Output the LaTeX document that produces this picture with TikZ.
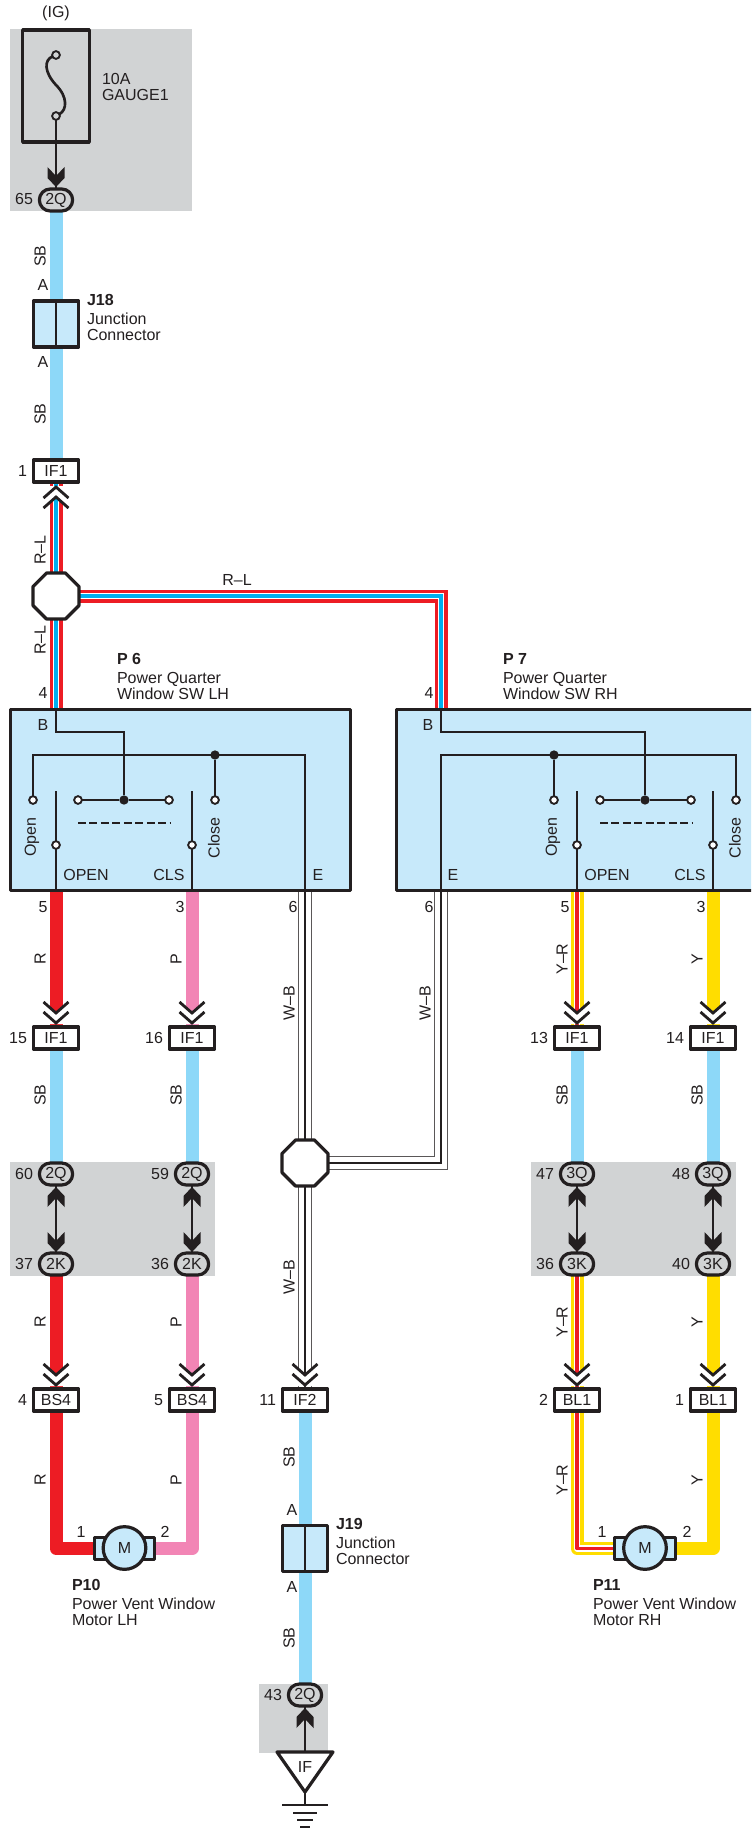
\documentclass[tikz,border=0pt]{standalone}
\usepackage{fontspec}
\setmainfont{Liberation Sans}
\usetikzlibrary{shapes.geometric,shapes.misc,calc}
\pgfdeclarelayer{grey}
\pgfdeclarelayer{wires}
\pgfsetlayers{grey,wires,main}
\definecolor{ink}{HTML}{231F20}
\definecolor{sb}{HTML}{8DD8F8}
\definecolor{rd}{HTML}{ED1C24}
\definecolor{pk}{HTML}{F285B5}
\definecolor{yl}{HTML}{FFDD00}
\definecolor{bl}{HTML}{00AEEF}
\definecolor{boxb}{HTML}{C7E9FA}
\definecolor{gr}{HTML}{D1D3D4}
\tikzset{
  every node/.style={font=\fontsize{12}{12}\selectfont,text=ink,inner sep=0pt,outer sep=0pt},
  heavy/.style={draw=ink,line width=2.4pt,line join=round},
  fine/.style={draw=ink,line width=1.3pt},
  conn/.style={heavy,fill=white,rectangle,minimum width=34pt,minimum height=16.5pt},
  oval/.style={heavy,fill=gr,rounded rectangle,minimum width=25pt,minimum height=16.5pt},
  junc/.style={heavy,fill=boxb,rectangle,minimum width=34pt,minimum height=34.5pt},
  octa/.style={heavy,fill=white,regular polygon,regular polygon sides=8,minimum size=37.3pt},
  swbox/.style={heavy,fill=boxb,rectangle},
  term/.style={circle,draw=ink,line width=1.4pt,fill=white,minimum size=5.8pt},
  dot/.style={circle,fill=ink,minimum size=7pt},
  lab/.style={rotate=90},
  desc/.style={align=left,anchor=north west},
  wsb/.style={draw=sb,line width=9.75pt},
  wr/.style={draw=rd,line width=9.75pt,line join=round},
  wp/.style={draw=pk,line width=9.75pt,line join=round},
  wy/.style={draw=yl,line width=9.75pt,line join=round},
  wrl/.style={draw=rd,line width=9.75pt,postaction={draw=white,line width=4.6pt},postaction={draw=bl,line width=2.8pt}},
  wyr/.style={draw=yl,line width=9.75pt,line join=round,postaction={draw=white,line width=4.6pt},postaction={draw=rd,line width=2.8pt}},
  wwb/.style={draw=ink!75,line width=10.2pt,postaction={draw=white,line width=8.9pt},postaction={draw=ink,line width=2.1pt}},
  chevd/.pic={
    \fill[white] (-8,0) -- (0,7) -- (8,0) -- (8,18) -- (-8,18) -- cycle;
    \draw[draw=ink,line width=2.1pt,miter limit=10] (-12.5,-4) -- (0,7) -- (12.5,-4);
    \draw[draw=ink,line width=2.1pt,miter limit=10] (-12.5,6) -- (0,17) -- (12.5,6);
  },
  chevu/.pic={
    \fill[white] (-8,0) -- (0,-7) -- (8,0) -- (8,-18) -- (-8,-18) -- cycle;
    \draw[draw=ink,line width=2.1pt,miter limit=10] (-12.5,4) -- (0,-7) -- (12.5,4);
    \draw[draw=ink,line width=2.1pt,miter limit=10] (-12.5,-6) -- (0,-17) -- (12.5,-6);
  },
  headd/.pic={\fill[ink] (-8.5,0) -- (0,9) -- (8.5,0) -- (8.5,11) -- (0,20) -- (-8.5,11) -- cycle;},
  headu/.pic={\fill[ink] (-8.5,0) -- (0,-9) -- (8.5,0) -- (8.5,-11) -- (0,-20) -- (-8.5,-11) -- cycle;},
}
\begin{document}
\begin{tikzpicture}[x=0.75pt,y=-0.75pt]
\clip (0,0) rectangle (751,1830);
\begin{pgfonlayer}{grey}
\fill[white] (0,0) rectangle (751,1830);
\fill[gr] (10,29) rectangle (192,211);
\fill[gr] (10,1162) rectangle (215,1276);
\fill[gr] (531,1162) rectangle (736,1276);
\fill[gr] (259,1684) rectangle (328,1753);
\end{pgfonlayer}

% ---- fuse
\node (ig) at (56,13) {(IG)};
\node[heavy,rectangle,minimum width=50pt,minimum height=84pt] (fuse) at (56,86) {};
\node[term,fill=gr] (fa) at (56,55) {};
\node[term,fill=gr] (fb) at (56,116) {};
\draw[draw=ink,line width=2pt] (fa) .. controls (44,60) and (44,72) .. (56,85) .. controls (68,97) and (67,110) .. (fb);
\node[desc] (fl) at (102,73.5) {10A\\GAUGE1};
\node[oval] (q65) at (56,200) {2Q};
\node[anchor=east] (n65) at (33,199) {65};

% ---- J18, IF1, octagon
\node[junc] (j18) at (56,324) {};
\draw[fine] (j18.north) -- (j18.south);
\node[desc] (j18l) at (87,294) {\textbf{J18}\\[2.5pt]Junction\\Connector};
\node[conn] (if1) at (56,471) {IF1};
\node[anchor=east] (n1) at (27,471) {1};
\node[octa] (oc1) at (56,596) {};
\node[lab] (t1) at (40,256) {SB};
\node (t2) at (43,285) {A};
\node (t3) at (43,362) {A};
\node[lab] (t4) at (40,414) {SB};
\node[lab] (t5) at (40,550) {R--L};
\node[lab] (t6) at (40,640) {R--L};
\node (t7) at (237,580) {R--L};

% ---- switches
\node[swbox,minimum width=255pt,minimum height=135.5pt] (p6) at (180.5,800) {};
\node[swbox,minimum width=271pt,minimum height=135.5pt] (p7) at (577,800) {};
\node[desc] (p6l) at (117,653) {\textbf{P 6}\\[2.5pt]Power Quarter\\Window SW LH};
\node[desc] (p7l) at (503,653) {\textbf{P 7}\\[2.5pt]Power Quarter\\Window SW RH};
\node (n4a) at (43,693) {4};
\node (n4b) at (429,693) {4};
\node (bA) at (43,725) {B};
\node (bB) at (428,725) {B};

% lower connectors
\node[conn] (c15) at (56,1038) {IF1};
\node[conn] (c16) at (192,1038) {IF1};
\node[conn] (c13) at (577,1038) {IF1};
\node[conn] (c14) at (713,1038) {IF1};
\node[anchor=east] (n15) at (27,1038) {15};
\node[anchor=east] (n16) at (163,1038) {16};
\node[anchor=east] (n13) at (548,1038) {13};
\node[anchor=east] (n14) at (684,1038) {14};
\node[oval] (q60) at (56,1174) {2Q};
\node[oval] (q59) at (192,1174) {2Q};
\node[oval] (q47) at (577,1174) {3Q};
\node[oval] (q48) at (713,1174) {3Q};
\node[oval] (k37) at (56,1264) {2K};
\node[oval] (k36) at (192,1264) {2K};
\node[oval] (k36b) at (577,1264) {3K};
\node[oval] (k40) at (713,1264) {3K};
\node[anchor=east] (n60) at (33,1174) {60};
\node[anchor=east] (n59) at (169,1174) {59};
\node[anchor=east] (n47) at (554,1174) {47};
\node[anchor=east] (n48) at (690,1174) {48};
\node[anchor=east] (n37) at (33,1264) {37};
\node[anchor=east] (n36) at (169,1264) {36};
\node[anchor=east] (n36b) at (554,1264) {36};
\node[anchor=east] (n40) at (690,1264) {40};
\node[conn] (b4) at (56,1400) {BS4};
\node[conn] (b5) at (192,1400) {BS4};
\node[conn] (i2) at (305,1400) {IF2};
\node[conn] (l2) at (577,1400) {BL1};
\node[conn] (l1) at (713,1400) {BL1};
\node[anchor=east] (n4c) at (27,1400) {4};
\node[anchor=east] (n5c) at (163,1400) {5};
\node[anchor=east] (n11) at (276,1400) {11};
\node[anchor=east] (n2c) at (548,1400) {2};
\node[anchor=east] (n1c) at (684,1400) {1};
\node[octa] (oc2) at (305,1163) {};

% P6 contents
\node[term] (aO) at (33,800) {};
\node[term] (aS) at (56,845) {};
\node[term] (aL) at (78,800) {};
\node[term] (aR) at (169,800) {};
\node[dot]  (aM) at (124,800) {};
\node[term] (aC) at (215,800) {};
\node[term] (aT) at (192,845) {};
\node[dot]  (aJ) at (215,755) {};
\coordinate (aB) at (56,732);
\coordinate (aE) at (305,755);
\coordinate (aK) at (33,755);
\draw[fine] (if1.center |- p6.north) -- (aB) -- (aM.center |- aB) -- (aM);
\draw[fine] (aO) -- (aK) -- (aE) -- (aE |- p6.south);
\draw[fine] (aJ) -- (aC);
\draw[fine] (aL) -- (aM) -- (aR);
\draw[fine] (aS) -- (aS |- p6.south);
\draw[fine] (aT) -- (aT |- p6.south);
\draw[draw=ink,line width=2pt] (aS.north) -- ++(0,-50);
\draw[draw=ink,line width=2pt] (aT.north) -- ++(0,-50);
\draw[draw=ink,line width=1.4pt,dash pattern=on 6pt off 2.6pt] (78,823) -- (170,823);
\node[lab] (oA) at (32,837) {Open};
\node[lab] (cA) at (214,838) {Close};
\node (pA) at (86,875) {OPEN};
\node (qA) at (169,875) {CLS};
\node (eA) at (318,875) {E};
% P7 contents
\node[term] (bO) at (554,800) {};
\node[term] (bS) at (577,845) {};
\node[term] (bL) at (600,800) {};
\node[term] (bR) at (691,800) {};
\node[dot]  (bM) at (645,800) {};
\node[term] (bC) at (736,800) {};
\node[term] (bT) at (713,845) {};
\node[dot]  (bJ) at (554,755) {};
\coordinate (bT1) at (441,732);
\coordinate (bE) at (441,755);
\coordinate (bK) at (736,755);
\draw[fine] (bT1 |- p7.north) -- (bT1) -- (bM.center |- bT1) -- (bM);
\draw[fine] (bC) -- (bK) -- (bE) -- (bE |- p7.south);
\draw[fine] (bJ) -- (bO);
\draw[fine] (bL) -- (bM) -- (bR);
\draw[fine] (bS) -- (bS |- p7.south);
\draw[fine] (bT) -- (bT |- p7.south);
\draw[draw=ink,line width=2pt] (bS.north) -- ++(0,-50);
\draw[draw=ink,line width=2pt] (bT.north) -- ++(0,-50);
\draw[draw=ink,line width=1.4pt,dash pattern=on 6pt off 2.6pt] (600,823) -- (692,823);
\node[lab] (oB) at (553,837) {Open};
\node[lab] (cB) at (735,838) {Close};
\node (pB) at (607,875) {OPEN};
\node (qB) at (690,875) {CLS};
\node (eB) at (453,875) {E};
% numbers under switches
\node (n5a) at (43,907) {5};
\node (n3a) at (180,907) {3};
\node (n6a) at (293,907) {6};
\node (n6b) at (429,907) {6};
\node (n5b) at (565,907) {5};
\node (n3b) at (701,907) {3};

% wire labels
\node[lab] (u1) at (40,959) {R};
\node[lab] (u2) at (176,959) {P};
\node[lab] (u3) at (289,1003) {W--B};
\node[lab] (u4) at (425,1003) {W--B};
\node[lab] (u5) at (562,959) {Y--R};
\node[lab] (u6) at (697,959) {Y};
\node[lab] (u7) at (40,1095) {SB};
\node[lab] (u8) at (176,1095) {SB};
\node[lab] (u9) at (562,1095) {SB};
\node[lab] (u10) at (697,1095) {SB};
\node[lab] (u11) at (40,1322) {R};
\node[lab] (u12) at (176,1322) {P};
\node[lab] (u13) at (289,1277) {W--B};
\node[lab] (u14) at (562,1322) {Y--R};
\node[lab] (u15) at (697,1322) {Y};
\node[lab] (u16) at (40,1480) {R};
\node[lab] (u17) at (176,1480) {P};
\node[lab] (u18) at (562,1480) {Y--R};
\node[lab] (u19) at (697,1480) {Y};
\node[lab] (u20) at (289,1457) {SB};
\node[lab] (u21) at (289,1638) {SB};

% motors
\node[heavy,fill=boxb,rectangle,minimum width=45.5pt,minimum height=17pt] (mLr) at (124.5,1548.5) {};
\node[heavy,fill=boxb,circle,minimum size=32pt] (mL) at (124.5,1548) {M};
\node[heavy,fill=boxb,rectangle,minimum width=45.5pt,minimum height=17pt] (mRr) at (645,1548.5) {};
\node[heavy,fill=boxb,circle,minimum size=32pt] (mR) at (645,1548) {M};
\node (m1a) at (81,1532) {1};
\node (m2a) at (165,1532) {2};
\node (m1b) at (602,1532) {1};
\node (m2b) at (687,1532) {2};
\node[desc] (p10) at (72,1579) {\textbf{P10}\\[2.5pt]Power Vent Window\\Motor LH};
\node[desc] (p11) at (593,1579) {\textbf{P11}\\[2.5pt]Power Vent Window\\Motor RH};

% J19, ground
\node[junc] (j19) at (305,1548.5) {};
\draw[fine] (j19.north) -- (j19.south);
\node[desc] (j19l) at (336,1518) {\textbf{J19}\\[2.5pt]Junction\\Connector};
\node (a1) at (292,1510) {A};
\node (a2) at (292,1587) {A};
\node[oval] (q43) at (305,1695) {2Q};
\node[anchor=east] (n43) at (282,1695) {43};
\coordinate (tri) at (305,1752);
\draw[heavy,fill=white] (tri) -- (333,1752) -- (305,1792) -- (277,1752) -- cycle;
\node (ifg) at (305,1767) {IF};
\coordinate (apex) at (305,1792);
\coordinate (gnd) at (305,1805);
\draw[fine] (apex) -- (gnd);
\draw[fine] (282,1805) -- (328,1805);
\draw[fine] (293,1813) -- (317,1813);
\draw[fine] (297,1820) -- (313,1820);
\draw[fine] (300,1827) -- (310,1827);

% thin arrows in grey
\draw[fine] (fb) -- (q65.north);
\draw[fine] (q60.south) -- (k37.north);
\draw[fine] (q59.south) -- (k36.north);
\draw[fine] (q47.south) -- (k36b.north);
\draw[fine] (q48.south) -- (k40.north);
\draw[fine] (tri) -- (q43.south);
\pic at (56,167) {headd};
\foreach \x in {56,192,577,713}{
  \pic at (\x,1232) {headd};
  \pic at (\x,1207) {headu};
}
\pic at (305,1728) {headu};

% wires
\begin{pgfonlayer}{wires}
\draw[wsb] (q65.south) -- (j18.north);
\draw[wsb] (j18.south) -- (if1.north);
\draw[wrl] (if1.south) -- (oc1.north);
\draw[wrl] (oc1.south) -- (if1.center |- p6.north);
\draw[wrl] (oc1.center) -- (bE |- oc1.center) -- (bE |- p7.north);
\draw[wr] (c15.north |- p6.south) -- (c15.north);
\draw[wp] (c16.north |- p6.south) -- (c16.north);
\draw[wyr] (c13.north |- p7.south) -- (c13.north);
\draw[wy] (c14.north |- p7.south) -- (c14.north);
\draw[wwb] (aE |- p6.south) -- (oc2.north);
\draw[wwb] (oc2.south) -- (i2.north);
\draw[wwb] (bE |- p7.south) -- (bE |- oc2.center) -- (oc2.center);
\draw[wsb] (c15.south) -- (q60.north);
\draw[wsb] (c16.south) -- (q59.north);
\draw[wsb] (c13.south) -- (q47.north);
\draw[wsb] (c14.south) -- (q48.north);
\draw[wr] (k37.south) -- (b4.north);
\draw[wp] (k36.south) -- (b5.north);
\draw[wyr] (k36b.south) -- (l2.north);
\draw[wy] (k40.south) -- (l1.north);
\draw[wr] (b4.south) |- (mLr.west);
\draw[wp] (b5.south) |- (mLr.east);
\draw[wyr] (l2.south) |- (mRr.west);
\draw[wy] (l1.south) |- (mRr.east);
\draw[wsb] (i2.south) -- (j19.north);
\draw[wsb] (j19.south) -- (q43.north);
\end{pgfonlayer}

% chevrons
\pic at (56,1006) {chevd};
\pic at (192,1006) {chevd};
\pic at (305,1368) {chevd};
\pic at (577,1006) {chevd};
\pic at (713,1006) {chevd};
\pic at (56,1368) {chevd};
\pic at (192,1368) {chevd};
\pic at (577,1368) {chevd};
\pic at (713,1368) {chevd};
\pic at (56,504) {chevu};
\end{tikzpicture}
\end{document}
